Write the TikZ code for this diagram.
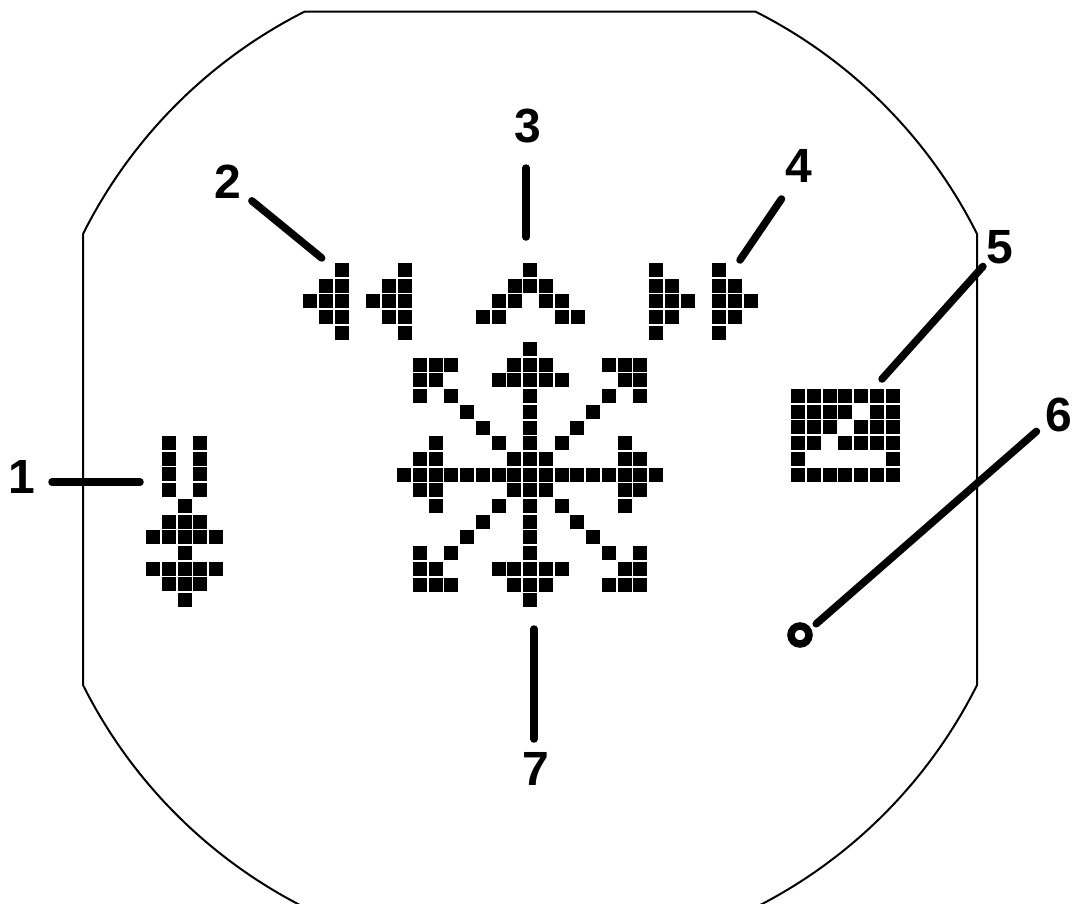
\documentclass[tikz,border=0pt]{standalone}
\usepackage{fontspec}
\setmainfont{Liberation Sans}

\tikzset{
  lab/.style={circle, inner sep=0pt, outer sep=0pt, minimum size=#1, font=\fontsize{48}{48}\selectfont\bfseries},
  leader/.style={line width=7.5pt, line cap=round},
  hole/.style={draw, circle, line width=7.5pt, inner sep=0pt, minimum size=18pt}
}

% draws one icon: left column x, top row y, then row/{columns}
\newcommand{\pixicon}[3]{%
  \foreach \r/\cols in {#3} {
    \foreach \c in \cols {
      \fill ({#1+\c*15.75-7},{#2+\r*15.7-7}) rectangle ++(14,14);
    }
  }
}

\begin{document}
\begin{tikzpicture}[x=1pt, y=-1pt]
        \clip (0,0) rectangle (1073,903);

        % Outline
        \draw[line width=2pt] (83,234) arc[start angle=206.6, end angle=243.2, radius=500]
            -- ++(450.8,0) arc[start angle=296.8, end angle=333.4, radius=500]
            -- ++(0,451) arc[start angle=26.6, end angle=63.2, radius=500]
            -- ++(-450.8,0) arc[start angle=116.8, end angle=153.4, radius=500] -- cycle;

        % Star
        \pixicon{404}{349}{0/{8}, 1/{1,2,3,7,8,9,13,14,15}, 2/{1,2,6,7,8,9,10,14,15}, 3/{1,3,8,13,15},
            4/{4,8,12}, 5/{5,8,11}, 6/{2,6,8,10,14}, 7/{1,2,7,8,9,14,15},
            8/{0,1,2,3,4,5,6,7,8,9,10,11,12,13,14,15,16},
            9/{1,2,7,8,9,14,15}, 10/{2,6,8,10,14}, 11/{5,8,11}, 12/{4,8,12},
            13/{1,3,8,13,15}, 14/{1,2,6,7,8,9,10,14,15}, 15/{1,2,3,7,8,9,13,14,15}, 16/{8}}

        % Arrows
        \pixicon{310}{270}{0/{2}, 1/{1,2}, 2/{0,1,2}, 3/{1,2}, 4/{2}}
        \pixicon{373}{270}{0/{2}, 1/{1,2}, 2/{0,1,2}, 3/{1,2}, 4/{2}}
        \pixicon{483}{270}{0/{3}, 1/{2,3,4}, 2/{1,2,4,5}, 3/{0,1,5,6}}
        \pixicon{656}{270}{0/{0}, 1/{0,1}, 2/{0,1,2}, 3/{0,1}, 4/{0}}
        \pixicon{719}{270}{0/{0}, 1/{0,1}, 2/{0,1,2}, 3/{0,1}, 4/{0}}

        % Side icons
        \pixicon{153}{443}{0/{1,3}, 1/{1,3}, 2/{1,3}, 3/{1,3}, 4/{2}, 5/{1,2,3}, 6/{0,1,2,3,4},
            7/{2}, 8/{0,1,2,3,4}, 9/{1,2,3}, 10/{2}}
        \pixicon{798}{396}{0/{0,1,2,3,4,5,6}, 1/{0,1,2,3,5,6}, 2/{0,1,2,4,5,6}, 3/{0,1,3,4,5,6},
            4/{0,6}, 5/{0,1,2,3,4,5,6}}

        % Nodes
        \node[lab=60pt] (lab1) at (22,477) {1};
        \node[lab=61.4pt] (lab2) at (228,181.5) {2};
        \node[lab=84pt] (lab3) at (528,126) {3};
        \node[lab=74.6pt] (lab4) at (799,166) {4};
        \node[lab=51pt] (lab5) at (1000,247.5) {5};
        \node[lab=55.8pt] (lab6) at (1059,415) {6};
        \node[lab=60pt] (lab7) at (536,769) {7};
        \node[hole] (ring) at (800,635) {};

        \coordinate (end1) at (140,482);
        \coordinate (end2) at (321.7,258);
        \coordinate (end3) at (526,237);
        \coordinate (end4) at (740,260);
        \coordinate (end5) at (882,379);
        \coordinate (end7) at (534,629);

        % Edges
        \draw[leader] (lab1.east |- end1) -- (end1);
        \draw[leader] (lab2.-39.4) -- (end2);
        \draw[leader] (lab3.south -| end3) -- (end3);
        \draw[leader] (lab4.242.3) -- (end4);
        \draw[leader] (lab5.228.2) -- (end5);
        \draw[leader, shorten >=7pt] (lab6.216.8) -- (ring.31);
        \draw[leader] (lab7.north -| end7) -- (end7);
    \end{tikzpicture}
\end{document}
